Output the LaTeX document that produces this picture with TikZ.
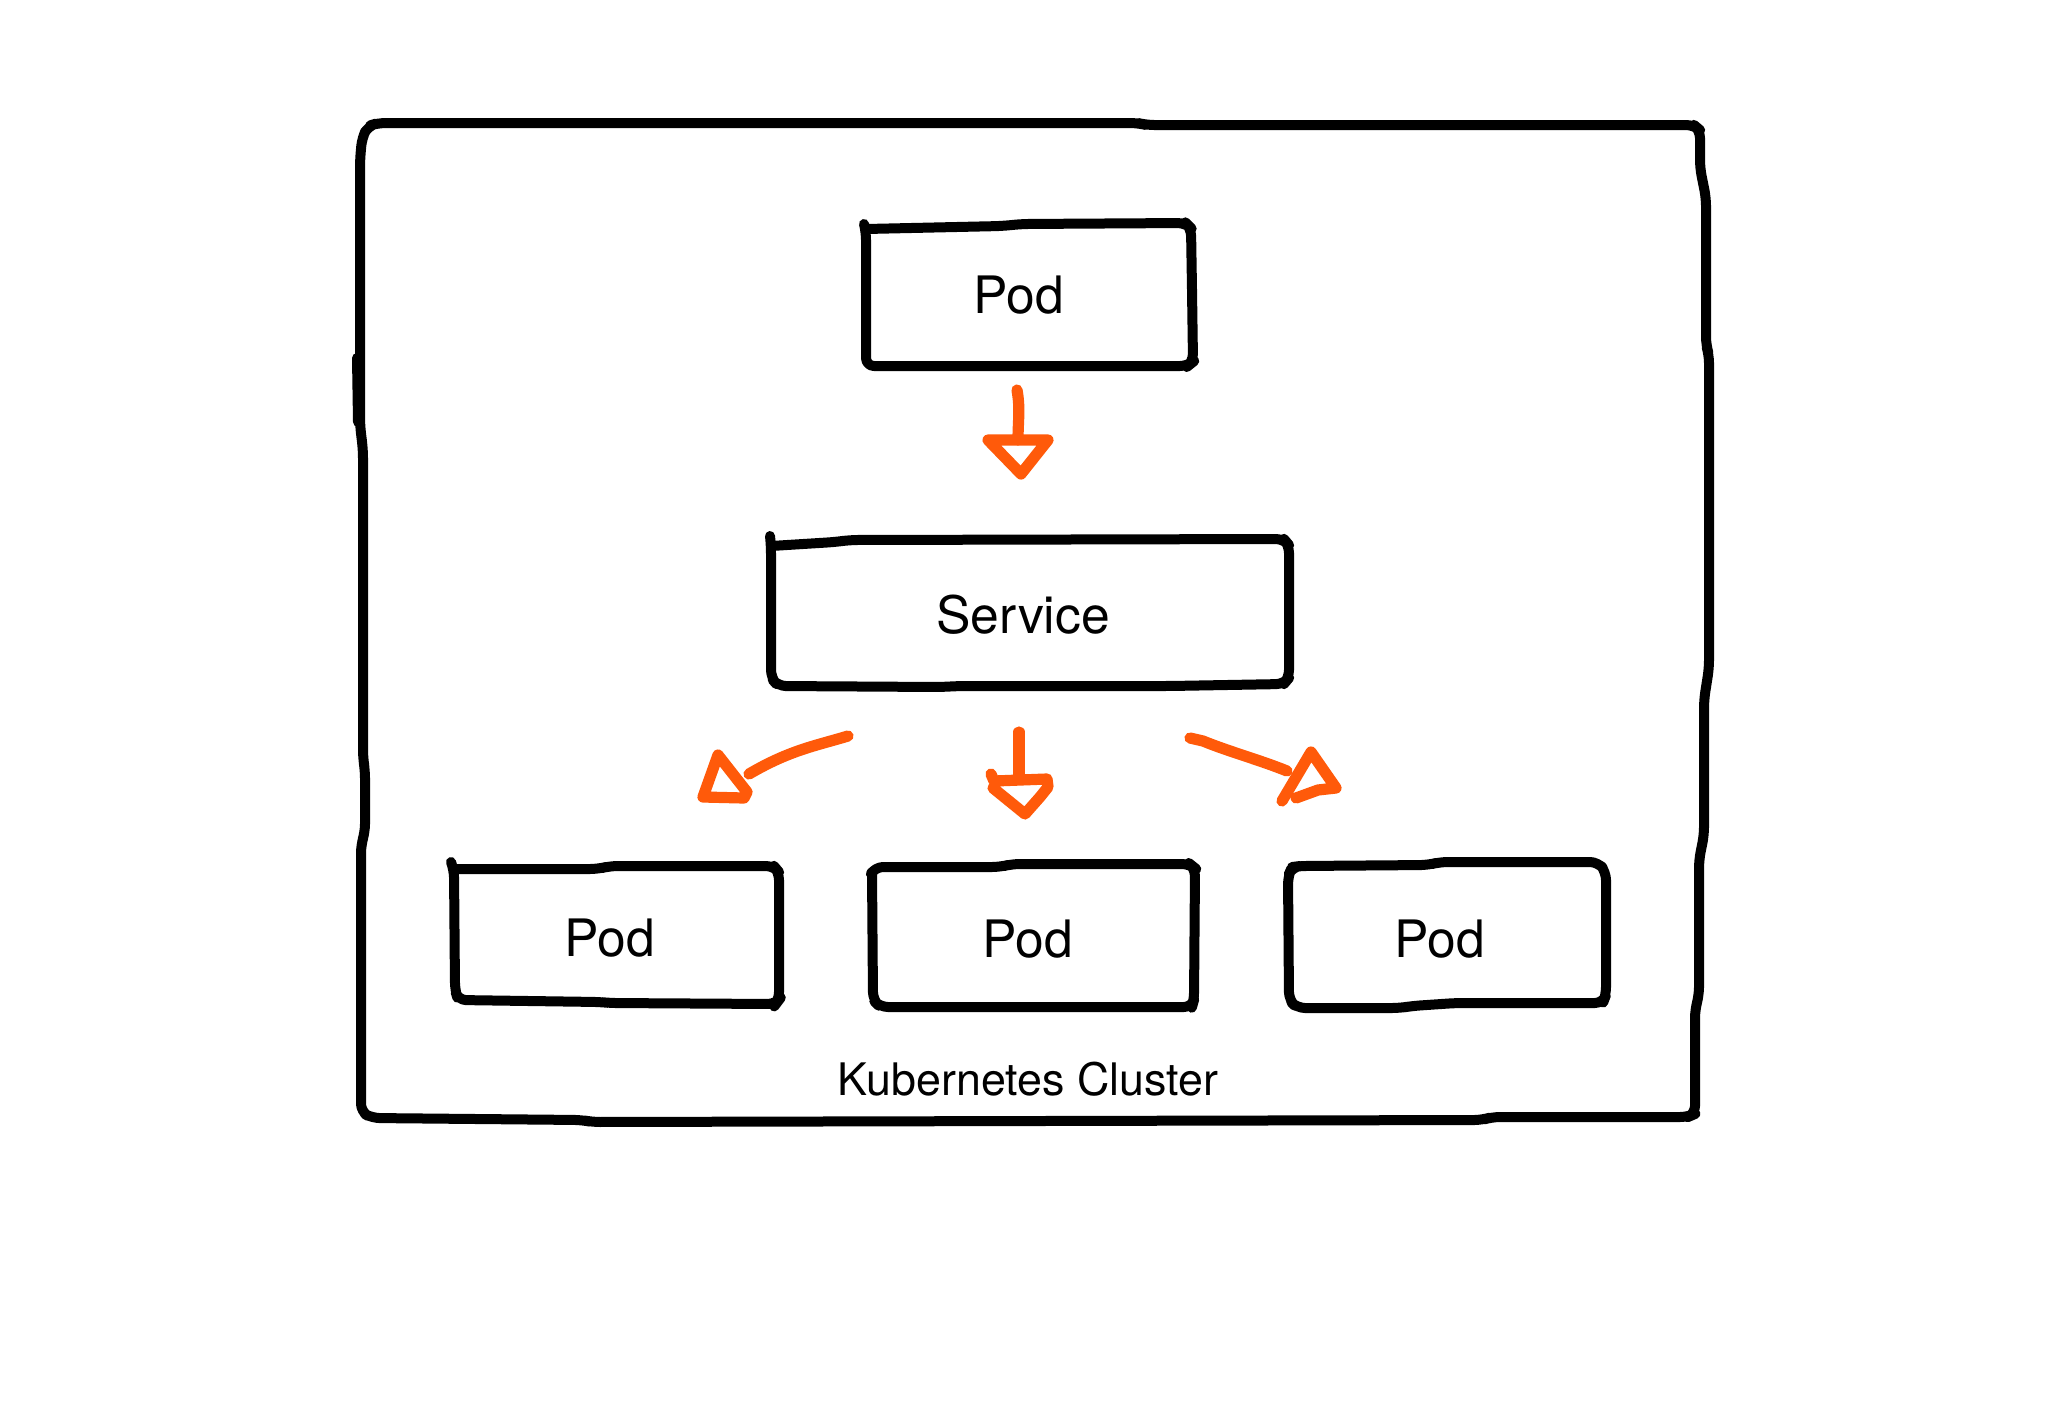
\documentclass[tikz,border=0pt]{standalone}
\usepackage{fontspec}
\setmainfont{TeX Gyre Heros}
\definecolor{sketchorange}{HTML}{FF5A0A}
\begin{document}
\begin{tikzpicture}[x=0.5pt,y=-0.5pt,
  ink/.style={draw=black, line width=5pt, line cap=round, line join=round, rounded corners=4pt},
  arr/.style={draw=sketchorange, line width=5.6pt, line cap=round, line join=round},
  lbl/.style={font=\fontsize{25.8}{30}\selectfont, anchor=base, inner sep=0pt},
  small/.style={font=\fontsize{22.4}{26}\selectfont, anchor=base, inner sep=0pt}]
\useasboundingbox (0,0) rectangle (2048,1408);
\fill[white] (0,0) rectangle (2048,1408);

% ---- outer cluster box (hand drawn) ----
\draw[ink] (361,1112) -- (361,845) -- (365,832) -- (365,770) -- (363,758) -- (363,450)
  -- (360,425) -- (360,160) -- (362,138) -- (368,126) -- (378,123) -- (1138,123) -- (1146,125)
  -- (1694,125) -- (1700,130) -- (1700,168) -- (1706,198) -- (1706,345) -- (1709,355)
  -- (1709,668) -- (1704,700) -- (1704,835) -- (1699,860) -- (1699,995) -- (1695,1010)
  -- (1695,1114) -- (1688,1117) -- (1492,1117) -- (1482,1120) -- (592,1122) -- (582,1120)
  -- (372,1118) -- cycle;
\draw[ink] (357,358) -- (358,422);

% ---- top pod ----
\draw[ink] (864,224) -- (866,232) -- (866,366) -- (1188,366) -- (1193,362) -- (1192,290)
  -- (1191,228) -- (1186,223) -- (1022,224) -- (1002,226) -- (866,229);
\node[lbl] (podTop) at (1019,313) {Pod};

% ---- service ----
\draw[ink] (770,536) -- (771,546) -- (771,678) -- (778,686) -- (940,687) -- (960,686)
  -- (1170,686) -- (1284,684) -- (1289,678) -- (1289,545) -- (1284,539) -- (850,540)
  -- (835,542) -- (771,546);
\node[lbl] (svc) at (1023,633) {Service};

% ---- bottom pods ----
\draw[ink] (451,862) -- (454,870) -- (455,990) -- (458,1000) -- (600,1002) -- (610,1003)
  -- (776,1004) -- (779,1000) -- (779,872) -- (774,866) -- (610,866) -- (598,869) -- (454,869);
\node[lbl] (podL) at (610,956) {Pod};

\draw[ink] (872,872) -- (873,1000) -- (880,1007) -- (1192,1007) -- (1194,1000) -- (1195,868)
  -- (1190,864) -- (1012,864) -- (1000,867) -- (875,867) -- (872,872);
\node[lbl] (podM) at (1028,957) {Pod};

\draw[ink] (1292,867) -- (1288,876) -- (1289,1000) -- (1297,1008) -- (1400,1008) -- (1412,1006)
  -- (1456,1003) -- (1603,1003) -- (1606,995) -- (1606,872) -- (1598,862) -- (1440,862)
  -- (1428,865) -- (1300,866) -- cycle;
\node[lbl] (podR) at (1440,957) {Pod};

\node[small] (cluster) at (1028,1095) {Kubernetes Cluster};

% ---- arrow anchors ----
\coordinate (a1s) at (1017,390);  \coordinate (a1e) at (1018,440);
\coordinate (a2s) at (1019,732);  \coordinate (a2e) at (1019,779);
\coordinate (a3s) at (848,736);   \coordinate (a3e) at (749,774);
\coordinate (a4s) at (1190,738);  \coordinate (a4e) at (1287,771);

% top arrow: pod -> service
\draw[arr] (a1s) to[out=-80,in=90] (a1e);
\draw[arr] (988,440) -- (1048,440) -- (1021,474) -- cycle;

% middle arrow: service -> middle pod
\draw[arr] (a2s) -- (a2e);
\draw[arr] (991,774) -- (994,781) -- (1047,779) -- (1048,787) -- (1040,797) -- (1025,814)
  -- (993,788);

% left arrow: service -> left pod
\draw[arr] (a3s) .. controls (815,746) and (790,750) .. (a3e);
\draw[arr] (718,755) -- (703,797) -- (744,798) -- (747,792) -- cycle;

% right arrow: service -> right pod
\draw[arr] (a4s) -- (1203,741) .. controls (1230,752) and (1260,760) .. (a4e);
\draw[arr] (1282,801) -- (1311,752) -- (1336,788) -- (1318,790) -- (1296,798);
\end{tikzpicture}
\end{document}
